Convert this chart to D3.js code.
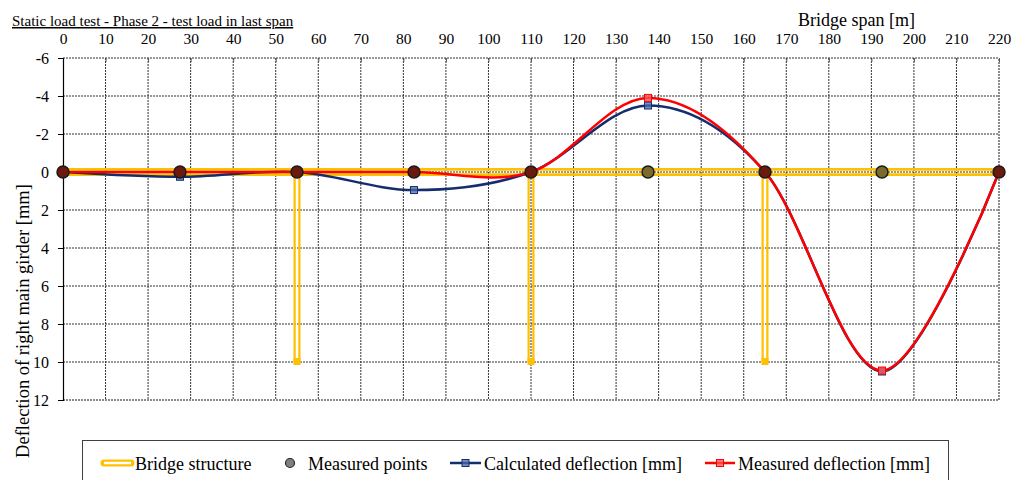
<!DOCTYPE html>
<html>
<head>
<meta charset="utf-8">
<script src="https://cdn.jsdelivr.net/npm/d3@7"></script>
<style>
  body { margin: 0; background: #fff; }
</style>
</head>
<body>
<div id="chart"></div>
<script>
// Chart data
const spanTicks = [0, 10, 20, 30, 40, 50, 60, 70, 80, 90, 100, 110, 120, 130, 140, 150, 160, 170, 180, 190, 200, 210, 220];
const deflTicks = [-6, -4, -2, 0, 2, 4, 6, 8, 10, 12];

// measured points along the bridge [m]
const pointX = [0, 27.5, 55, 82.5, 110, 137.5, 165, 192.5, 220];
const calculated = [0, 0.25, 0, 0.95, 0, -3.5, 0, 10.5, 0];
const measured = [0, 0, 0, 0, 0, -3.9, 0, 10.45, 0];

// bridge structure: deck ends and piers
const deckX = [0, 220];
const pierX = [55, 110, 165];
const pierDepth = [10, 10, 10];

const width = 1012, height = 480;
const margin = { top: 58, right: 13, bottom: 80, left: 63 };
const serif = '"Liberation Serif"';

const svg = d3.select('#chart')
  .append('svg')
  .attr('width', width)
  .attr('height', height);

const x = d3.scaleLinear().domain([0, 220]).range([margin.left, width - margin.right]);
const y = d3.scaleLinear().domain([-6, 12]).range([margin.top, height - margin.bottom]);

const navy = '#142d6e';
const red = '#ff0000';
const yellow = '#ffc000';

// Grid
const grid = svg.append('g');
grid.selectAll('.vgrid')
  .data(spanTicks.filter(d => d > 0 && d < 220))
  .enter().append('line')
  .attr('x1', d => x(d)).attr('x2', d => x(d))
  .attr('y1', y(-6)).attr('y2', y(12))
  .attr('stroke', '#333').attr('stroke-width', 1)
  .attr('stroke-dasharray', '2,1');
grid.selectAll('.hgrid')
  .data(deflTicks.filter(d => d < 12))
  .enter().append('line')
  .attr('x1', x(0)).attr('x2', x(220))
  .attr('y1', d => y(d)).attr('y2', d => y(d))
  .attr('stroke', '#333').attr('stroke-width', 1)
  .attr('stroke-dasharray', '2,1');
// bottom and right border
grid.append('path')
  .attr('d', `M${x(0)},${y(12)}H${x(220)}V${y(-6)}`)
  .attr('fill', 'none')
  .attr('stroke', '#8c8c8c').attr('stroke-width', 2)
  .attr('stroke-dasharray', '2,1');

// Axes
const topAxis = svg.append('g')
  .attr('transform', `translate(0,${y(-6)})`)
  .call(d3.axisTop(x).tickValues(spanTicks).tickSize(-4).tickPadding(14).tickFormat(d => String(d)));
topAxis.attr('font-family', null).attr('font-size', null);
topAxis.select('.domain').remove();
topAxis.selectAll('line').attr('stroke', '#555');
topAxis.selectAll('text').style('font-family', serif).style('font-size', '15.5px');

const leftAxis = svg.append('g')
  .attr('transform', `translate(${x(0)},0)`)
  .call(d3.axisLeft(y).tickValues(deflTicks).tickSize(5).tickPadding(9).tickFormat(d => String(d)));
leftAxis.attr('font-family', null).attr('font-size', null);
leftAxis.select('.domain').attr('stroke', '#000').attr('stroke-width', 1.2);
leftAxis.selectAll('line').attr('stroke', '#000');
leftAxis.selectAll('text').style('font-family', serif).style('font-size', '16px');

// Hollow (double) line mask for the bridge structure
const defs = svg.append('defs');
const mask = defs.append('mask').attr('id', 'hollow')
  .attr('maskUnits', 'userSpaceOnUse')
  .attr('x', 0).attr('y', 0).attr('width', width).attr('height', height);
mask.append('rect').attr('width', width).attr('height', height).attr('fill', '#fff');

const structure = svg.append('g').attr('mask', 'url(#hollow)');

function hollowSeg(x1, y1, x2, y2, w, gap) {
  structure.append('line')
    .attr('x1', x1).attr('y1', y1).attr('x2', x2).attr('y2', y2)
    .attr('stroke', yellow).attr('stroke-width', w);
  mask.append('line')
    .attr('x1', x1).attr('y1', y1).attr('x2', x2).attr('y2', y2)
    .attr('stroke', '#000').attr('stroke-width', gap);
}

hollowSeg(x(deckX[0]), y(0), x(deckX[1]), y(0), 8, 2.5);
pierX.forEach((px, i) => {
  hollowSeg(x(px), y(0), x(px), y(pierDepth[i]), 7, 2.5);
});
svg.selectAll('.pierfoot')
  .data(pierX)
  .enter().append('rect')
  .attr('x', d => x(d) - 3.5)
  .attr('y', (d, i) => y(pierDepth[i]) - 4)
  .attr('width', 7).attr('height', 7)
  .attr('fill', yellow);

// Deflection lines
const line = d3.line()
  .x((d, i) => x(pointX[i]))
  .y(d => y(d))
  .curve(d3.curveCardinal.tension(0));

svg.append('path')
  .datum(calculated)
  .attr('d', line)
  .attr('fill', 'none')
  .attr('stroke', navy)
  .attr('stroke-width', 2.5);

svg.append('path')
  .datum(measured)
  .attr('d', line)
  .attr('fill', 'none')
  .attr('stroke', red)
  .attr('stroke-width', 2.5);

function squares(values, fill, stroke) {
  svg.append('g').selectAll('rect')
    .data(values)
    .enter().append('rect')
    .attr('x', (d, i) => x(pointX[i]) - 3.5)
    .attr('y', d => y(d) - 3.5)
    .attr('width', 7).attr('height', 7)
    .attr('fill', fill).attr('fill-opacity', 0.75)
    .attr('stroke', stroke).attr('stroke-width', 1);
}
squares(calculated, '#4a6aa8', navy);
squares(measured, '#ff5a5a', red);

// Measured points (the translucent grey marker blends with the line below)
svg.append('g').selectAll('circle')
  .data(pointX)
  .enter().append('circle')
  .attr('cx', d => x(d))
  .attr('cy', y(0))
  .attr('r', 6)
  .attr('fill', (d, i) => measured[i] === 0 ? '#6a1a0e' : '#7a6a2c')
  .attr('stroke', '#1a1a1a')
  .attr('stroke-width', 1.5);

// Titles
svg.append('text')
  .attr('x', 12).attr('y', 26)
  .style('font-family', serif).style('font-size', '15px')
  .style('text-decoration', 'underline')
  .text('Static load test - Phase 2 - test load in last span');

svg.append('text')
  .attr('x', 798).attr('y', 26)
  .style('font-family', serif).style('font-size', '18px')
  .text('Bridge span [m]');

svg.append('text')
  .attr('transform', 'translate(29,321) rotate(-90)')
  .attr('text-anchor', 'middle')
  .style('font-family', serif).style('font-size', '18.5px')
  .text('Deflection of right main girder [mm]');

// Legend
const legend = svg.append('g');
legend.append('rect')
  .attr('x', 82.5).attr('y', 440.5)
  .attr('width', 866).attr('height', 60)
  .attr('fill', '#fff')
  .attr('stroke', '#404040').attr('stroke-width', 1);

const ly = 463, lty = 470;
function legendText(tx, label) {
  legend.append('text').attr('x', tx).attr('y', lty)
    .style('font-family', serif).style('font-size', '18px')
    .text(label);
}
// bridge structure symbol
legend.append('line')
  .attr('x1', 104).attr('y1', ly).attr('x2', 131).attr('y2', ly)
  .attr('stroke', yellow).attr('stroke-width', 7).attr('stroke-linecap', 'round');
legend.append('line')
  .attr('x1', 104).attr('y1', ly).attr('x2', 131).attr('y2', ly)
  .attr('stroke', '#fff').attr('stroke-width', 2.5);
legendText(135, 'Bridge structure');

legend.append('circle')
  .attr('cx', 290).attr('cy', ly).attr('r', 4.5)
  .attr('fill', '#7f7f7f').attr('stroke', '#262626').attr('stroke-width', 1.2);
legendText(308, 'Measured points');

legend.append('line')
  .attr('x1', 450).attr('y1', ly).attr('x2', 481).attr('y2', ly)
  .attr('stroke', navy).attr('stroke-width', 2.5);
legend.append('rect')
  .attr('x', 462).attr('y', ly - 3.5).attr('width', 7).attr('height', 7)
  .attr('fill', '#4a6aa8').attr('fill-opacity', 0.75).attr('stroke', navy);
legendText(484, 'Calculated deflection [mm]');

legend.append('line')
  .attr('x1', 705).attr('y1', ly).attr('x2', 735).attr('y2', ly)
  .attr('stroke', red).attr('stroke-width', 2.5);
legend.append('rect')
  .attr('x', 716.5).attr('y', ly - 3.5).attr('width', 7).attr('height', 7)
  .attr('fill', '#ff5a5a').attr('fill-opacity', 0.75).attr('stroke', red);
legendText(738, 'Measured deflection [mm]');
</script>
</body>
</html>
